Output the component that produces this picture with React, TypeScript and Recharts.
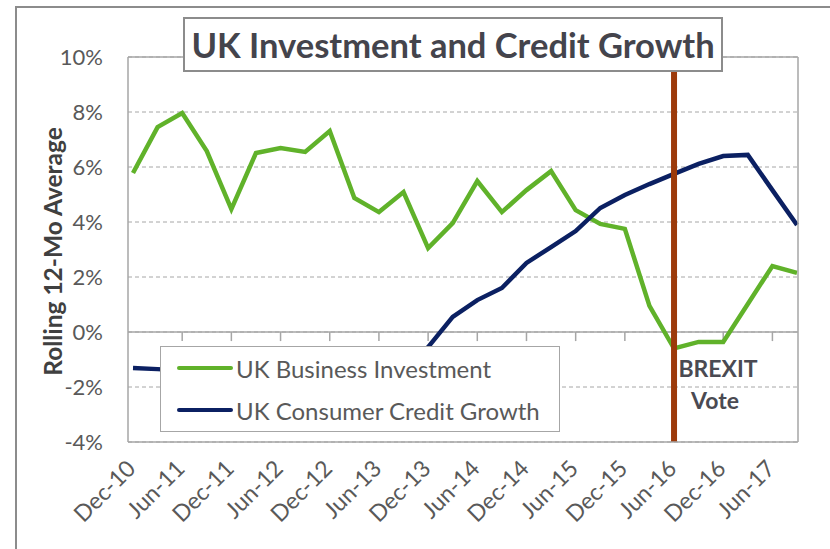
import { LineChart, Line, XAxis, YAxis, CartesianGrid, ReferenceLine, Legend } from "recharts";

// quarterly points, Dec-10 .. Sep-17
const quarters = [
  "Dec-10", "Mar-11", "Jun-11", "Sep-11", "Dec-11", "Mar-12", "Jun-12", "Sep-12",
  "Dec-12", "Mar-13", "Jun-13", "Sep-13", "Dec-13", "Mar-14", "Jun-14", "Sep-14",
  "Dec-14", "Mar-15", "Jun-15", "Sep-15", "Dec-15", "Mar-16", "Jun-16", "Sep-16",
  "Dec-16", "Mar-17", "Jun-17", "Sep-17",
];

const businessInvestment = [
  5.78, 7.45, 7.96, 6.58, 4.47, 6.51, 6.69, 6.55, 7.31, 4.87, 4.36, 5.09,
  3.05, 3.96, 5.49, 4.36, 5.16, 5.85, 4.43, 3.93, 3.75, 0.95, -0.6, -0.36,
  -0.36, 1.02, 2.4, 2.15,
];

// middle part sits behind the legend box in the original, values estimated
const consumerCredit = [
  -1.31, -1.35, -1.4, -1.5, -1.6, -1.6, -1.7, -1.7, -1.6, -1.5, -1.3, -1.1,
  -0.55, 0.55, 1.16, 1.6, 2.51, 3.09, 3.67, 4.51, 4.98, 5.38, 5.75, 6.11,
  6.4, 6.44, 5.16, 3.89,
];

const yTicks = [-4, -2, 0, 2, 4, 6, 8, 10];

const seriesNames = ["UK Business Investment", "UK Consumer Credit Growth"];
const brexitDate = "Jun-16";

const GREEN = "#60b22a";
const NAVY = "#0b2062";
const BROWN = "#9c3a0a";
const GRID = "#a6a6a6";
const TEXT = "#595959";
const FONT = "Lato, 'Open Sans', sans-serif";

const data = quarters.map((q, i) => ({
  quarter: q,
  investment: businessInvestment[i],
  credit: consumerCredit[i],
}));

// little tick marks hanging off the 0% line, every half year
const zeroTicks = quarters.filter((_, i) => i > 0 && i % 2 === 0);

const XTick = ({ x, y, payload }: any) => (
  <g transform={`translate(${x + 4},${y + 20})`}>
    <text x={0} y={0} textAnchor="end" fill={TEXT} fontSize={23} fontFamily={FONT} transform="rotate(-45)">
      {payload.value}
    </text>
  </g>
);

const LegendBox = ({ payload }: any) => (
  <div
    style={{
      width: 400,
      height: 86,
      background: "#fff",
      border: `1.5px solid ${GRID}`,
      boxSizing: "border-box",
    }}
  >
    {(payload || []).map((item: any) => (
      <div key={item.value} style={{ display: "flex", alignItems: "center", height: 42, paddingLeft: 16 }}>
        <div style={{ width: 56, height: 4.5, background: item.color, borderRadius: 2, marginRight: 3 }} />
        <span style={{ fontSize: 24, color: TEXT, fontFamily: FONT }}>{item.value}</span>
      </div>
    ))}
  </div>
);

const AxisTitle = ({ viewBox }: any) => {
  const cx = viewBox.x + 52;
  const cy = viewBox.y + viewBox.height / 2 + 2;
  return (
    <text
      x={cx}
      y={cy}
      textAnchor="middle"
      dominantBaseline="central"
      transform={`rotate(-90 ${cx} ${cy})`}
      fill="#404040"
      fontSize={24.5}
      fontWeight="bold"
      fontFamily={FONT}
    >
      Rolling 12-Mo Average
    </text>
  );
};

const BrexitLabel = ({ viewBox }: any) => {
  const bottom = viewBox.y + viewBox.height;
  return (
    <g fill="#4a4a52" fontSize={23} fontWeight="bold" fontFamily={FONT}>
      <text x={viewBox.x + 44} y={bottom - 65} textAnchor="middle">BREXIT</text>
      <text x={viewBox.x + 41} y={bottom - 33} textAnchor="middle">Vote</text>
    </g>
  );
};

export default function App() {
  return (
    <div style={{ position: "relative", width: 830, height: 549, fontFamily: FONT, background: "#fff" }}>
      <style>{"body{margin:0}"}</style>

      {/* outer frame, only top and left edges show */}
      <div
        style={{
          position: "absolute",
          left: 15,
          top: 6,
          width: 815,
          height: 543,
          borderTop: "2px solid #8c8c8c",
          borderLeft: "2px solid #8c8c8c",
          boxSizing: "border-box",
        }}
      />

      <LineChart
        width={830}
        height={549}
        data={data}
        margin={{ top: 0, right: 0, bottom: 0, left: 0 }}
        style={{ position: "absolute", left: 0, top: 0 }}
      >
        <CartesianGrid vertical={false} stroke={GRID} strokeDasharray="4 3" />
        <XAxis
          dataKey="quarter"
          height={107}
          interval={1}
          tick={<XTick />}
          tickLine={false}
          axisLine={{ stroke: GRID, strokeWidth: 1.5 }}
          padding={{ left: 5, right: 1 }}
        />
        <XAxis
          xAxisId="top"
          dataKey="quarter"
          orientation="top"
          height={57}
          tick={false}
          tickLine={false}
          axisLine={{ stroke: GRID, strokeWidth: 1.5 }}
        />
        <YAxis
          width={128}
          domain={[-4, 10]}
          ticks={yTicks}
          tickFormatter={(v) => `${v}%`}
          tick={{ fill: TEXT, fontSize: 22, fontFamily: FONT }}
          tickLine={false}
          tickSize={0}
          tickMargin={25}
          axisLine={{ stroke: GRID, strokeWidth: 1.5 }}
          label={<AxisTitle />}
        />
        <YAxis
          yAxisId="right"
          orientation="right"
          width={32}
          domain={[-4, 10]}
          tick={false}
          tickLine={false}
          axisLine={{ stroke: GRID, strokeWidth: 1.5 }}
        />
        <ReferenceLine y={0} stroke={GRID} strokeWidth={1.5} />
        {zeroTicks.map((q) => (
          <ReferenceLine
            key={q}
            segment={[
              { x: q, y: 0 },
              { x: q, y: -0.33 },
            ]}
            stroke={GRID}
            strokeWidth={1.5}
          />
        ))}
        <Line
          type="linear"
          dataKey="investment"
          name={seriesNames[0]}
          stroke={GREEN}
          strokeWidth={4.5}
          dot={false}
          isAnimationActive={false}
        />
        <Line
          type="linear"
          dataKey="credit"
          name={seriesNames[1]}
          stroke={NAVY}
          strokeWidth={4.5}
          dot={false}
          isAnimationActive={false}
        />
        <ReferenceLine x={brexitDate} stroke={BROWN} strokeWidth={6} label={<BrexitLabel />} />
        <Legend
          layout="vertical"
          align="center"
          verticalAlign="middle"
          content={<LegendBox />}
          wrapperStyle={{ position: "absolute", left: 160, top: 346, width: 400, height: 86 }}
        />
      </LineChart>

      {/* boxed title */}
      <div
        style={{
          position: "absolute",
          left: 183,
          top: 17,
          width: 540,
          height: 55,
          border: "2px solid #8c8c8c",
          boxSizing: "border-box",
          background: "#fff",
          display: "flex",
          alignItems: "center",
          justifyContent: "center",
          fontSize: 34.5,
          fontWeight: "bold",
          color: "#44444c",
          whiteSpace: "nowrap",
        }}
      >
        UK Investment and Credit Growth
      </div>
    </div>
  );
}
